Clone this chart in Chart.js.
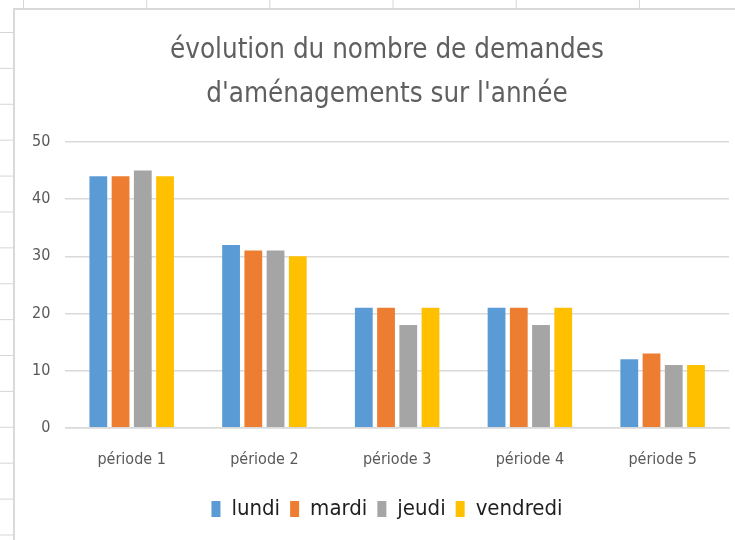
<!DOCTYPE html>
<html>
<head>
<meta charset="utf-8">
<script src="https://cdn.jsdelivr.net/npm/chart.js@4.4.1/dist/chart.umd.min.js"></script>
<style>
  html, body {
    margin: 0;
    width: 735px;
    height: 540px;
    overflow: hidden;
    background-color: #fff;
    /* fond de feuille de calcul */
    background-image:
      linear-gradient(to right, #d6d6d6 1px, transparent 1px),
      linear-gradient(to bottom, #d6d6d6 1px, transparent 1px);
    background-size: 123.2px 100%, 100% 35.9px;
    background-position: 23px 0, 0 32px;
  }
  #frame {
    position: absolute;
    left: 13px;
    top: 8px;
    width: 760px;
    height: 560px;
    background: #fff;
    border-left: 2px solid #d9d9d9;
    border-top: 2px solid #d9d9d9;
  }
  #chart {
    position: absolute;
    left: 0;
    top: 0;
  }
</style>
</head>
<body>
<div id="frame">
  <canvas id="chart" width="742" height="531"></canvas>
</div>
<script>
const periodes = ["période 1", "période 2", "période 3", "période 4", "période 5"];
const lundi = [44, 32, 21, 21, 12];
const mardi = [44, 31, 21, 21, 13];
const jeudi = [45, 31, 18, 18, 11];
const vendredi = [44, 30, 21, 21, 11];
const yTicks = [0, 10, 20, 30, 40, 50];

const police = "'Liberation Sans Narrow', 'DejaVu Sans Condensed', 'Noto Sans', sans-serif";

const ctx = document.getElementById("chart").getContext("2d");

const config = {
  type: "bar",
  data: {
    labels: periodes,
    datasets: [
      { label: "lundi", data: lundi, backgroundColor: "#5b9bd5" },
      { label: "mardi", data: mardi, backgroundColor: "#ed7d31" },
      { label: "jeudi", data: jeudi, backgroundColor: "#a5a5a5" },
      { label: "vendredi", data: vendredi, backgroundColor: "#ffc000" },
    ],
  },
  options: {
    responsive: false,
    animation: false,
    categoryPercentage: 0.67,
    barPercentage: 0.8,
    layout: {
      padding: { top: 8, left: 2, right: 0, bottom: 11 },
    },
    plugins: {
      title: {
        display: true,
        text: ["évolution du nombre de demandes", "d'aménagements sur l'année"],
        color: "#5f5f5f",
        font: { family: police, size: 27.5, weight: "normal", lineHeight: 1.6 },
        padding: { top: 11, bottom: 25 },
      },
      legend: {
        position: "bottom",
        labels: {
          color: "#1f1f1f",
          font: { family: police, size: 22 },
          boxWidth: 9,
          boxHeight: 16,
          padding: 10,
        },
      },
      tooltip: { enabled: false },
    },
    scales: {
      x: {
        grid: { display: false },
        border: { color: "#d9d9d9", width: 1.5 },
        ticks: {
          color: "#595959",
          font: { family: police, size: 16 },
          padding: 14,
        },
        // espace libre sous les étiquettes de catégories
        afterFit: (axis) => {
          axis.height += 5;
        },
      },
      y: {
        min: 0,
        max: 50,
        afterBuildTicks: (axis) => {
          axis.ticks = yTicks.map((v) => ({ value: v }));
        },
        grid: { color: "#d9d9d9", lineWidth: 1.5, drawTicks: false },
        border: { display: false },
        ticks: {
          color: "#595959",
          font: { family: police, size: 16 },
          padding: 15,
        },
      },
      // marge droite de la zone de tracé, sans décaler le titre ni la légende
      marge: {
        type: "linear",
        position: "right",
        display: true,
        grid: { display: false },
        border: { display: false },
        ticks: { display: false },
        afterFit: (axis) => {
          axis.width = 28;
        },
      },
    },
  },
};

new Chart(ctx, config);
</script>
</body>
</html>
